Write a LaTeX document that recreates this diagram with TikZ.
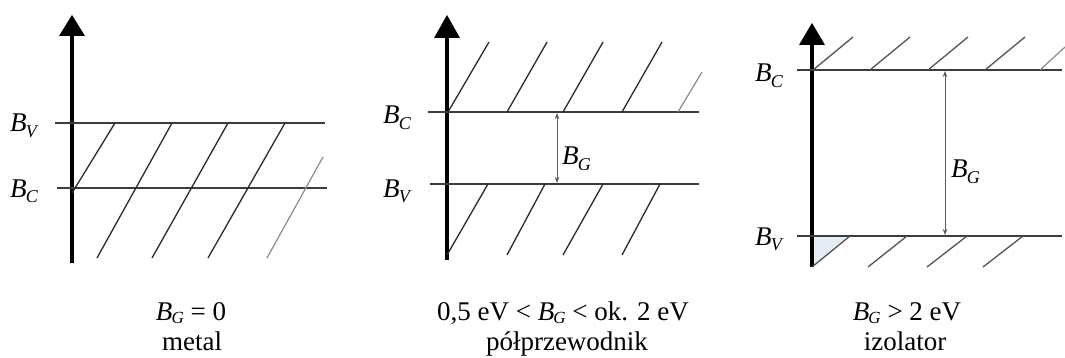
\documentclass[tikz,border=0pt]{standalone}
\usepackage{fontspec}
\setmainfont{Liberation Serif}
\usetikzlibrary{arrows.meta}
\definecolor{lvl}{HTML}{3C3C3C}
\definecolor{hat}{HTML}{2A2A2A}
\definecolor{hatl}{HTML}{8A8A8A}
\definecolor{gapfill}{HTML}{E6ECF6}
\newcommand\Bx[1]{\textit{B}\kern-0.03em\raisebox{-0.2em}{\fontsize{18}{18}\selectfont\textit{#1}}}
\newcommand\Bs[1]{\textit{B}\kern-0.03em\raisebox{-0.12em}{\fontsize{17}{17}\selectfont\textit{#1}}}
\tikzset{
  axisline/.style={line width=3.4pt, black},
  axishead/.style={fill=black, draw=none},
  level/.style={line width=2.2pt, lvl},
  hatch/.style={line width=1.3pt, hat},
  hatchlight/.style={line width=1.2pt, hatl},
  gaparrow/.style={line width=0.9pt, gray!70!black, {Stealth[length=6pt,width=4.5pt]}-{Stealth[length=6pt,width=4.5pt]}},
  lbl/.style={inner sep=0pt, anchor=base west, font=\fontsize{27}{32}\selectfont},
  captxt/.style={inner sep=0pt, anchor=base, font=\fontsize{27}{32}\selectfont},
}
\begin{document}
\begin{tikzpicture}[x=1pt,y=-1pt]
\useasboundingbox (0,0) rectangle (1065,358);
% ---------- panel 1: metal ----------
\coordinate (a1b) at (72,263); \coordinate (a1t) at (72,35);
\draw[axisline] (a1b) -- (a1t);
\fill[axishead] (59,36) -- (85,36) -- (72,15) -- cycle;
\coordinate (v1l) at (55,123); \coordinate (v1r) at (325,123);
\coordinate (c1l) at (57,188); \coordinate (c1r) at (327,188);
\draw[level] (v1l) -- (v1r);
\draw[level] (c1l) -- (c1r);
\draw[hatch] (72,193) -- (115,123);
\draw[hatch] (97,258) -- (172,123);
\draw[hatch] (152,258) -- (228,123);
\draw[hatch] (208,258) -- (285,123);
\draw[hatchlight] (267,258) -- (323,157);
\node[lbl] (lv1) at (10,132) {\Bx{V}};
\node[lbl] (lc1) at (10,197) {\Bx{C}};
\node[captxt] (t1a) at (191,320) {\Bs{G} = 0};
\node[captxt] (t1b) at (192,350) {metal};
% ---------- panel 2: semiconductor ----------
\coordinate (a2b) at (447,260); \coordinate (a2t) at (447,37);
\draw[axisline] (a2b) -- (a2t);
\fill[axishead] (434,38) -- (460,38) -- (447,15) -- cycle;
\coordinate (c2l) at (428,112); \coordinate (c2r) at (699,112);
\coordinate (v2l) at (430,184); \coordinate (v2r) at (699,184);
\draw[level] (c2l) -- (c2r);
\draw[level] (v2l) -- (v2r);
\draw[hatch] (448,112) -- (489,42);
\draw[hatch] (507,112) -- (547,42);
\draw[hatch] (563,112) -- (603,42);
\draw[hatch] (622,112) -- (662,42);
\draw[hatchlight] (678,112) -- (702,72);
\draw[hatch] (447,255) -- (488,184);
\draw[hatch] (507,255) -- (545,184);
\draw[hatch] (563,255) -- (603,184);
\draw[hatch] (622,255) -- (660,184);
\coordinate (g2t) at (557,113); \coordinate (g2b) at (557,183);
\draw[gaparrow] (g2t) -- (g2b);
\node[lbl] (lg2) at (562,165) {\Bx{G}};
\node[lbl] (lc2) at (383,124) {\Bx{C}};
\node[lbl] (lv2) at (383,197) {\Bx{V}};
\node[captxt] (t2a) at (563,320) {0,5 eV < \Bs{G} < ok. 2 eV};
\node[captxt] (t2b) at (567,350) {półprzewodnik};
% ---------- panel 3: insulator ----------
\fill[gapfill] (812,236) -- (850,236) -- (812,267) -- cycle;
\coordinate (a3b) at (812,267); \coordinate (a3t) at (812,44);
\draw[axisline] (a3b) -- (a3t);
\fill[axishead] (799,45) -- (825,45) -- (812,23) -- cycle;
\coordinate (c3l) at (797,70); \coordinate (c3r) at (1062,70);
\coordinate (v3l) at (797,236); \coordinate (v3r) at (1062,236);
\draw[level] (c3l) -- (c3r);
\draw[level] (v3l) -- (v3r);
\draw[hatch,hatl!60!black] (813,70) -- (853,37);
\draw[hatch,hatl!60!black] (870,70) -- (910,37);
\draw[hatch,hatl!60!black] (928,70) -- (968,37);
\draw[hatch,hatl!60!black] (985,70) -- (1025,37);
\draw[hatchlight] (1040,70) -- (1065,47);
\draw[hatch,hatl!60!black] (812,267) -- (850,236);
\draw[hatch,hatl!60!black] (868,267) -- (907,236);
\draw[hatch,hatl!60!black] (927,267) -- (967,236);
\draw[hatch,hatl!60!black] (983,267) -- (1023,236);
\coordinate (g3t) at (945,71); \coordinate (g3b) at (945,235);
\draw[gaparrow] (g3t) -- (g3b);
\node[lbl] (lg3) at (951,178) {\Bx{G}};
\node[lbl] (lc3) at (755,82) {\Bx{C}};
\node[lbl] (lv3) at (755,245) {\Bx{V}};
\node[captxt] (t3a) at (907,320) {\Bs{G} > 2 eV};
\node[captxt] (t3b) at (905,350) {izolator};
\end{tikzpicture}
\end{document}
